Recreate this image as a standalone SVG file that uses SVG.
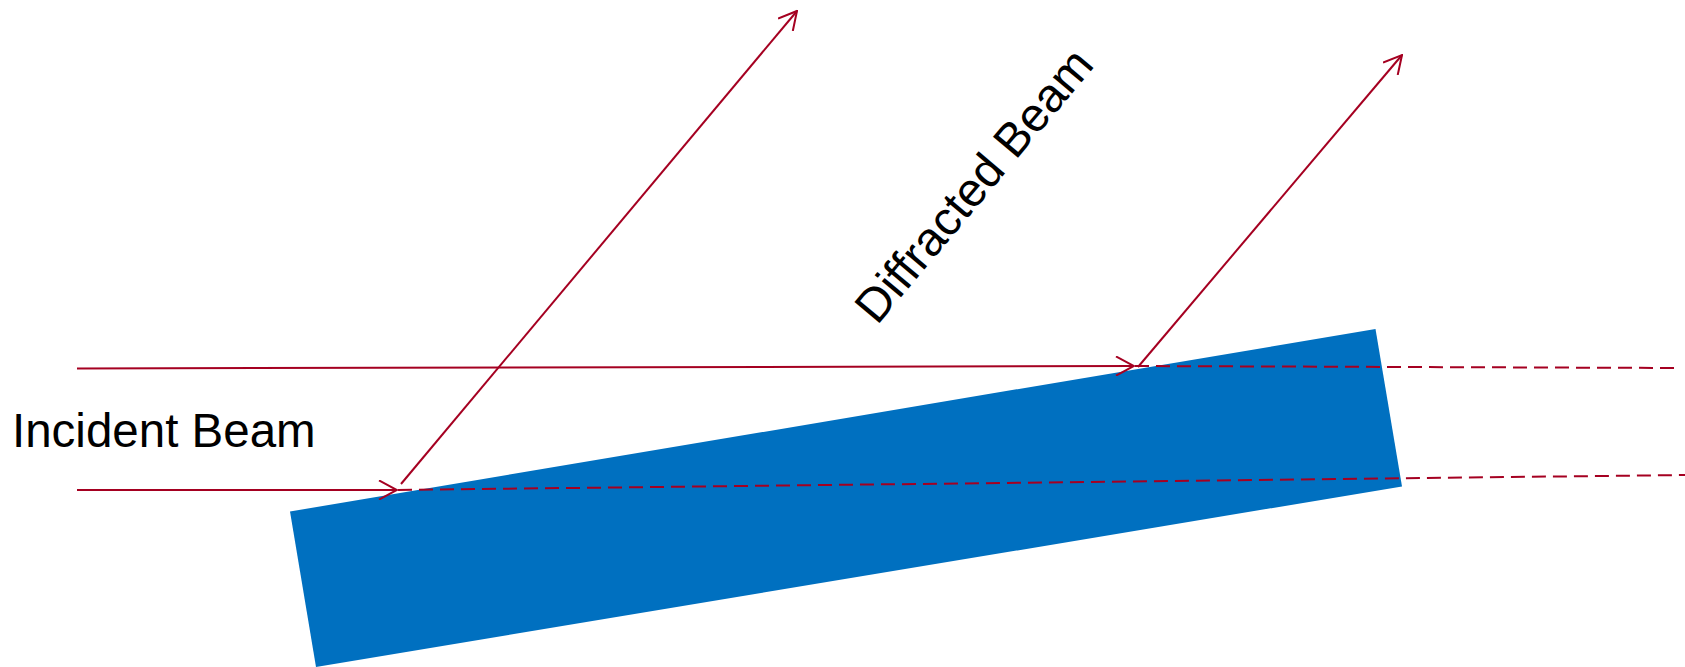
<svg xmlns="http://www.w3.org/2000/svg" width="1685" height="667" viewBox="0 0 1685 667">
<style>
.beam{stroke:#A50021;stroke-width:2;fill:none}
.dash{stroke-dasharray:14 7}
.lbl{font-family:"Liberation Sans",Arial,sans-serif;font-size:47.5px;fill:#000}
</style>
<defs>
<marker id="arr" viewBox="0 0 10 10" refX="9.5" refY="5" markerWidth="10" markerHeight="10" orient="auto" markerUnits="strokeWidth">
<path d="M0.5,0.2 L9.5,5 L0.5,9.8" fill="none" stroke="#A50021" stroke-width="1"/>
</marker>
</defs>
<rect width="1685" height="667" fill="#fff"/>
<g id="crystal">
<polygon points="290,511.5 1375.5,329 1402,486.5 316,667" fill="#0070C0"/>
</g>
<g id="connectors">
<line class="beam" x1="77" y1="368.5" x2="1134" y2="366" marker-end="url(#arr)"/>
<line class="beam" x1="77" y1="490" x2="397" y2="490" marker-end="url(#arr)"/>
<line class="beam dash" x1="1135" y1="366" x2="1675" y2="368"/>
<line class="beam dash" x1="398" y1="490" x2="1685" y2="475"/>
<line class="beam" x1="401" y1="484" x2="797" y2="11" marker-end="url(#arr)"/>
<line class="beam" x1="1138" y1="367" x2="1402" y2="55" marker-end="url(#arr)"/>
</g>
<g id="incident-label">
<text class="lbl" x="12" y="447">Incident Beam</text>
</g>
<g id="diffracted-label">
<text class="lbl" transform="translate(877,326) rotate(-50)">Diffracted Beam</text>
</g>
</svg>
